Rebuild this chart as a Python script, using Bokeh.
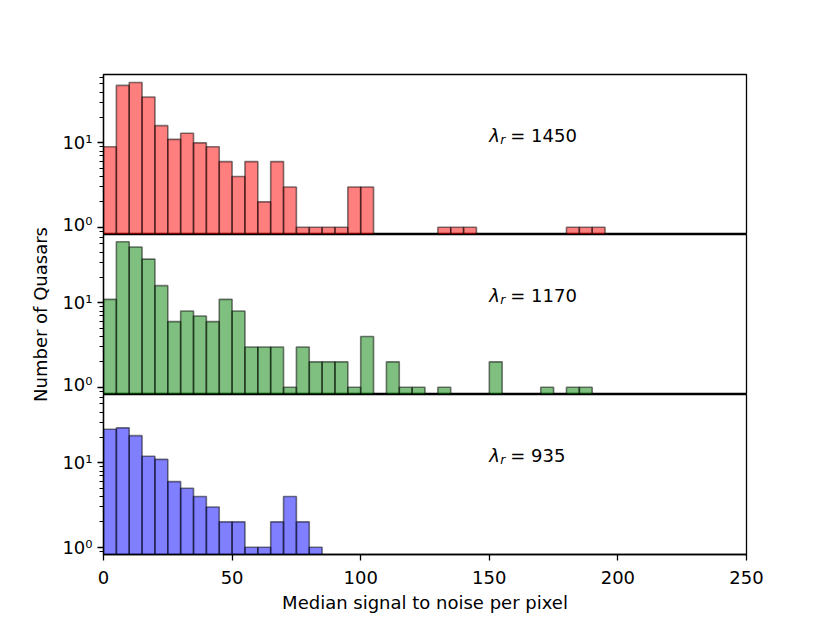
import math
from bokeh.plotting import figure
from bokeh.layouts import column, row
from bokeh.models import Range1d, FixedTicker, CustomJSTickFormatter, Label, ColumnDataSource
from bokeh.embed import file_html
from bokeh.resources import INLINE

# ---- data (counts per 5-unit bin starting at 0) ----
bin_width = 5
counts_1450 = [9, 48, 52, 35, 16, 11, 13, 10, 9, 6, 4, 6, 2, 6, 3, 1, 1, 1, 1, 3, 3,
               0, 0, 0, 0, 0, 1, 1, 1, 0, 0, 0, 0, 0, 0, 0, 1, 1, 1]
counts_1170 = [11, 53, 46, 33, 16, 6, 8, 7, 6, 11, 8, 3, 3, 3, 1, 3, 2, 2, 2, 1, 4,
               0, 2, 1, 1, 0, 1, 0, 0, 0, 2, 0, 0, 0, 1, 0, 1, 1]
counts_935 = [25, 26, 21, 12, 11, 6, 5, 4, 3, 2, 2, 1, 1, 2, 4, 2, 1]
panel_labels = ["1450", "1170", "935"]
panel_colors = ["#ff0000", "#008000", "#0000ff"]
x_ticks = [0, 50, 100, 150, 200, 250]
y_major = [1, 10]
y_minor = [0.9, 2, 3, 4, 5, 6, 7, 8, 9, 20, 30, 40, 50, 60]
x_label = "Median signal to noise per pixel"
y_label = "Number of Quasars"

FONT = "DejaVu Sans"
FS = "18px"
LABEL_W = 50
TOP_H = 234
MID_H = 160
BOT_H = 220

sup_js = """
const e = Math.round(Math.log10(tick));
const s = {"-1": "\u207b\u00b9", "0": "\u2070", "1": "\u00b9", "2": "\u00b2", "3": "\u00b3"};
return "10" + (s[String(e)] || String(e));
"""


def make_panel(counts, color, lam, top=False, bottom=False):
    kw = dict(frame_width=643, frame_height=160, output_backend="svg",
              toolbar_location=None, x_range=Range1d(0, 250),
              y_range=Range1d(0.82, 64.6), y_axis_type="log",
              min_border_left=103 - LABEL_W, min_border_right=70,
              min_border_top=(TOP_H - 160) if top else 0,
              min_border_bottom=(BOT_H - 160) if bottom else 0,
              background_fill_color="white", border_fill_color="white")
    p = figure(**kw)
    left = [i * bin_width for i, c in enumerate(counts) if c > 0]
    right = [(i + 1) * bin_width for i, c in enumerate(counts) if c > 0]
    tops = [c for c in counts if c > 0]
    src = ColumnDataSource(dict(left=left, right=right, top=tops, bottom=[0.1] * len(tops)))
    p.quad(left="left", right="right", top="top", bottom="bottom", source=src,
           fill_color=color, fill_alpha=0.5, line_color="black", line_alpha=0.5,
           line_width=1.6)
    p.xgrid.visible = False
    p.ygrid.visible = False
    p.outline_line_color = "black"
    p.outline_line_width = 1.3
    p.outline_line_alpha = 1

    ya = p.yaxis[0]
    ya.ticker = FixedTicker(ticks=y_major, minor_ticks=y_minor)
    ya.formatter = CustomJSTickFormatter(code=sup_js)
    ya.major_label_text_font = FONT
    ya.major_label_text_font_size = FS
    ya.major_label_text_color = "black"
    ya.axis_line_color = "black"
    ya.axis_line_width = 1.3
    ya.major_tick_line_color = "black"
    ya.minor_tick_line_color = "black"
    ya.major_tick_out = 6
    ya.major_tick_in = 0
    ya.minor_tick_out = 4
    ya.minor_tick_in = 0
    ya.major_tick_line_width = 1.3
    ya.minor_tick_line_width = 1.0
    ya.major_label_standoff = 5

    xa = p.xaxis[0]
    if bottom:
        xa.ticker = FixedTicker(ticks=x_ticks)
        xa.major_label_text_font = FONT
        xa.major_label_text_font_size = FS
        xa.major_label_text_color = "black"
        xa.axis_line_color = "black"
        xa.axis_line_width = 1.3
        xa.major_tick_line_color = "black"
        xa.major_tick_line_width = 1.3
        xa.major_tick_out = 6
        xa.major_tick_in = 0
        xa.minor_tick_line_color = None
        xa.major_label_standoff = 10
        xa.axis_label = x_label
        xa.axis_label_text_font = FONT
        xa.axis_label_text_font_size = FS
        xa.axis_label_text_font_style = "normal"
        xa.axis_label_text_color = "black"
        xa.axis_label_standoff = 5
    else:
        xa.visible = False

    common = dict(x=150, y=10, text_font=FONT, text_color="black",
                  text_baseline="alphabetic", text_align="left")
    p.add_layout(Label(text="\u03bb", text_font_size=FS, text_font_style="italic",
                       y_offset=7, **common))
    p.add_layout(Label(text="r", text_font_size="12.6px", text_font_style="italic",
                       x_offset=11, y_offset=3, **common))
    p.add_layout(Label(text="= " + lam, text_font_size=FS, x_offset=21, y_offset=7, **common))
    return p


p1 = make_panel(counts_1450, panel_colors[0], panel_labels[0], top=True)
p2 = make_panel(counts_1170, panel_colors[1], panel_labels[1])
p3 = make_panel(counts_935, panel_colors[2], panel_labels[2], bottom=True)

total_h = TOP_H + MID_H + BOT_H
lab = figure(width=LABEL_W, height=total_h, output_backend="svg", toolbar_location=None,
             x_range=Range1d(0, 1), y_range=Range1d(0, 1),
             min_border=0, outline_line_color=None,
             background_fill_color="white", border_fill_color="white")
lab.axis.visible = False
lab.grid.visible = False
lab.add_layout(Label(x=40, y=total_h - (TOP_H + MID_H / 2), x_units="screen", y_units="screen",
                     text=y_label, angle=math.pi / 2, text_align="center",
                     text_baseline="middle", text_font=FONT, text_font_size=FS,
                     text_color="black"))

layout = row(lab, column(p1, p2, p3, spacing=0), spacing=0)

open("out.html", "w").write(file_html(layout, INLINE))
